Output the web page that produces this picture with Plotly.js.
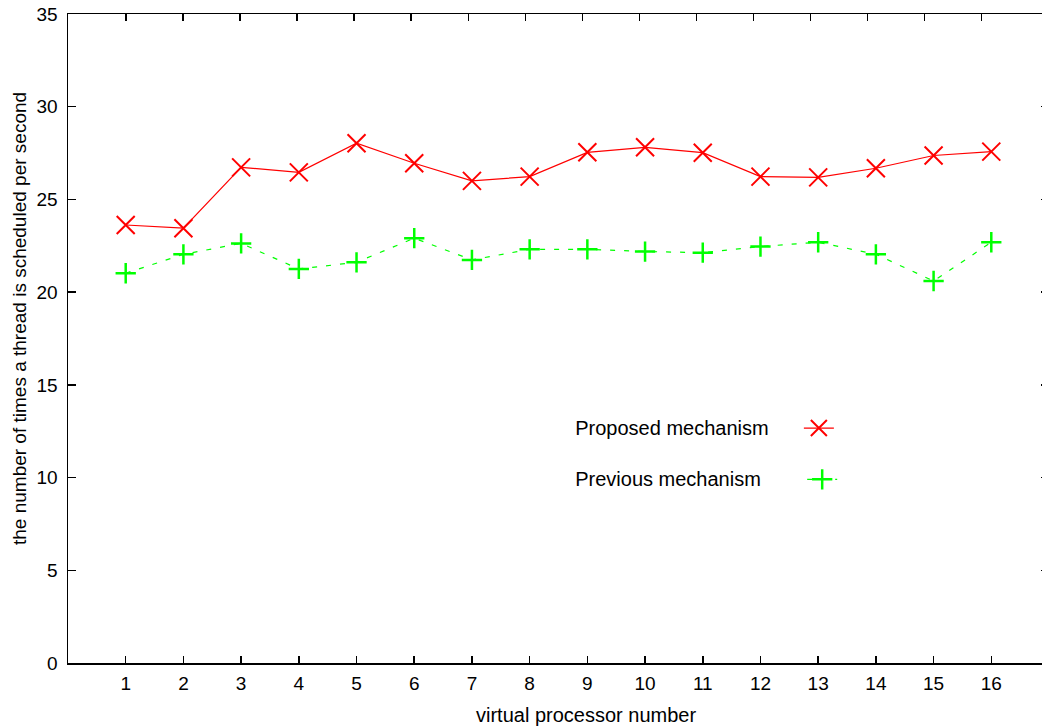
<!DOCTYPE html>
<html>
<head>
<meta charset="utf-8">
<script src="https://cdn.plot.ly/plotly-3.0.1.min.js"></script>
<style>
html, body { margin: 0; padding: 0; overflow: hidden; background: #fff; }
#chart { width: 1050px; height: 728px; }
</style>
</head>
<body>
<div id="chart"></div>
<script>
const processors = [1, 2, 3, 4, 5, 6, 7, 8, 9, 10, 11, 12, 13, 14, 15, 16];
const proposed = [23.62, 23.45, 26.73, 26.46, 28.03, 26.95, 26.0, 26.23, 27.54, 27.81, 27.52, 26.23, 26.19, 26.68, 27.37, 27.58];
const previous = [21.02, 22.04, 22.63, 21.25, 21.61, 22.91, 21.74, 22.31, 22.31, 22.19, 22.13, 22.46, 22.69, 22.04, 20.60, 22.69];
const yTicks = [0, 5, 10, 15, 20, 25, 30, 35];
const seriesNames = ['Proposed mechanism', 'Previous mechanism'];
const xTitle = 'virtual processor number';
const yTitle = 'the number of times a thread is scheduled per second';

const FONT = 'Liberation Sans, Arial, sans-serif';
const GAP1 = '\u00a0\u00a0\u00a0\u00a0';
const GAP2 = '\u00a0\u00a0\u00a0\u00a0\u00a0\u00a0';

const traces = [
  {
    x: processors, y: proposed, type: 'scatter', mode: 'lines+markers',
    name: '', legend: 'legend',
    line: { color: '#ff0000', width: 1.2 },
    marker: { symbol: 'x-thin-open', size: 18, color: '#ff0000', line: { color: '#ff0000', width: 2 } },
    hoverinfo: 'x+y'
  },
  {
    x: processors, y: previous, type: 'scatter', mode: 'lines+markers',
    name: '', legend: 'legend2',
    line: { color: '#00ff00', width: 1.2, dash: '5px,9px' },
    marker: { symbol: 'cross-thin-open', size: 14.5, color: '#00ff00', line: { color: '#00ff00', width: 2.5 } },
    hoverinfo: 'x+y'
  },
  {
    x: [], y: [], xaxis: 'x2', yaxis: 'y2', type: 'scatter', mode: 'markers',
    showlegend: false, hoverinfo: 'skip'
  }
];

const legendCommon = {
  bgcolor: 'rgba(0,0,0,0)', borderwidth: 0,
  font: { family: FONT, size: 20, color: '#000' },
  xanchor: 'left', yanchor: 'middle', itemwidth: 30
};

const layout = {
  width: 1050, height: 728,
  margin: { l: 68, r: 1, t: 14, b: 65 },
  paper_bgcolor: '#fff', plot_bgcolor: '#fff',
  font: { family: FONT, size: 19, color: '#000' },
  xaxis: {
    range: [0, 17], tickvals: processors, ticktext: processors.map(String),
    ticks: 'inside', ticklen: 7, tickwidth: 1.5, tickcolor: '#000',
    showline: true, linewidth: 1.5, linecolor: '#000',
    showgrid: false, zeroline: false, ticklabelstandoff: 3,
    tickfont: { family: FONT, size: 19 }
  },
  xaxis2: {
    overlaying: 'x', side: 'top', anchor: 'y',
    range: [-0.0163, 17.18], tickvals: processors,
    ticks: 'inside', ticklen: 7, tickwidth: 1.5, tickcolor: '#000',
    showline: true, linewidth: 1.5, linecolor: '#000',
    showticklabels: false, showgrid: false, zeroline: false
  },
  yaxis: {
    range: [0, 35], tickvals: yTicks,
    ticks: 'inside', ticklen: 8, tickwidth: 1.5, tickcolor: '#000',
    showline: true, linewidth: 1.5, linecolor: '#000',
    showgrid: false, zeroline: false, ticklabelstandoff: 5,
    tickfont: { family: FONT, size: 19 }
  },
  yaxis2: {
    overlaying: 'y', side: 'right', anchor: 'x',
    range: [0, 35], tickvals: yTicks,
    ticks: 'inside', ticklen: 8, tickwidth: 1.5, tickcolor: '#000',
    showline: true, linewidth: 1.5, linecolor: '#000',
    showticklabels: false, showgrid: false, zeroline: false
  },
  annotations: [
    {
      text: xTitle, xref: 'paper', yref: 'paper',
      x: (586.5 - 68) / 981.4, y: -(715 - 663) / 649,
      xanchor: 'center', yanchor: 'middle', showarrow: false,
      font: { family: FONT, size: 20, color: '#000' }
    },
    {
      text: yTitle, xref: 'paper', yref: 'paper', textangle: -90,
      x: (19 - 68) / 981.4, y: (663 - 319) / 649,
      xanchor: 'center', yanchor: 'middle', showarrow: false,
      font: { family: FONT, size: 19, color: '#000' }
    }
  ],
  legend: Object.assign({}, legendCommon, {
    x: 0.515, y: 0.362,
    title: { text: seriesNames[0] + GAP1, side: 'left', font: { family: FONT, size: 20 } }
  }),
  legend2: Object.assign({}, legendCommon, {
    x: 0.515, y: 0.283,
    title: { text: seriesNames[1] + GAP2, side: 'left', font: { family: FONT, size: 20 } }
  }),
  showlegend: true
};

Plotly.newPlot('chart', traces, layout, { displayModeBar: false, staticPlot: true });
</script>
</body>
</html>
